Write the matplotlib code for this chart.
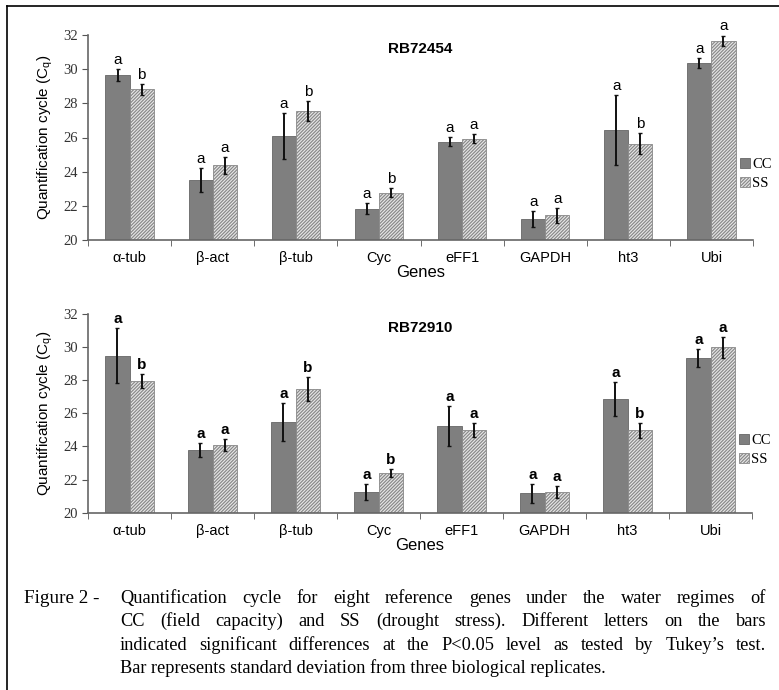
import matplotlib
matplotlib.use("Agg")
import matplotlib.pyplot as plt
import numpy as np
from matplotlib.lines import Line2D

plt.rcParams['hatch.color'] = '#5a5a5a'
plt.rcParams['hatch.linewidth'] = 0.85

genes = ['\u03b1-tub', '\u03b2-act', '\u03b2-tub', 'Cyc', 'eFF1', 'GAPDH', 'ht3', 'Ubi']

# RB72454
cc_1 = [29.66, 23.51, 26.09, 21.83, 25.76, 21.23, 26.42, 30.38]
cc_1_sd = [0.35, 0.70, 1.37, 0.33, 0.27, 0.46, 2.05, 0.29]
ss_1 = [28.82, 24.37, 27.53, 22.77, 25.93, 21.45, 25.64, 31.67]
ss_1_sd = [0.33, 0.48, 0.58, 0.25, 0.25, 0.43, 0.60, 0.30]
cc_1_let = ['a', 'a', 'a', 'a', 'a', 'a', 'a', 'a']
ss_1_let = ['b', 'a', 'b', 'b', 'a', 'a', 'b', 'a']

# RB72910
cc_2 = [29.48, 23.77, 25.46, 21.23, 25.22, 21.17, 26.85, 29.36]
cc_2_sd = [1.65, 0.43, 1.15, 0.49, 1.20, 0.59, 1.02, 0.55]
ss_2 = [27.97, 24.07, 27.47, 22.38, 24.97, 21.25, 24.99, 29.99]
ss_2_sd = [0.42, 0.36, 0.72, 0.24, 0.42, 0.38, 0.45, 0.63]
cc_2_let = ['a', 'a', 'a', 'a', 'a', 'a', 'a', 'a']
ss_2_let = ['b', 'a', 'b', 'b', 'a', 'a', 'b', 'a']

caption = [
    "Quantification cycle for eight reference genes under the water regimes of",
    "CC (field capacity) and SS (drought stress). Different letters on the bars",
    "indicated significant differences at the P<0.05 level as tested by Tukey\u2019s test.",
    "Bar represents standard deviation from three biological replicates.",
]

fig = plt.figure(figsize=(7.79, 6.90), dpi=100)
W, H = 779, 690

sans = 'Liberation Sans'
serif = 'Liberation Serif'


def panel(rect, title, cc, cc_sd, ss, ss_sd, cc_let, ss_let, bold_letters, leg_y):
    ax = fig.add_axes(rect)
    x = np.arange(len(genes)) + 0.5
    w = 0.29
    ax.bar(x - w / 2, [v - 20 for v in cc], w, bottom=20, color='#7f7f7f',
           edgecolor='#666666', linewidth=0.6, label='CC')
    ax.bar(x + w / 2, [v - 20 for v in ss], w, bottom=20, color='#e6e6e6',
           edgecolor='#888888', linewidth=0.6, hatch='//////////', label='SS')
    ax.errorbar(x - w / 2, cc, yerr=cc_sd, fmt='none', ecolor='#111111',
                elinewidth=1.4, capsize=1.5, capthick=1.0)
    ax.errorbar(x + w / 2, ss, yerr=ss_sd, fmt='none', ecolor='#111111',
                elinewidth=1.4, capsize=1.5, capthick=1.0)
    fw = 'bold' if bold_letters else 'normal'
    for i in range(len(genes)):
        ax.text(x[i] - w / 2, cc[i] + cc_sd[i] + 0.12, cc_let[i], ha='center',
                va='bottom', fontsize=11, family=sans, fontweight=fw)
        ax.text(x[i] + w / 2, ss[i] + ss_sd[i] + 0.12, ss_let[i], ha='center',
                va='bottom', fontsize=11, family=sans, fontweight=fw)
    ax.set_xlim(0, 8)
    ax.set_ylim(20, 32)
    ax.set_yticks(np.arange(20, 33, 2))
    ax.set_yticklabels([str(v) for v in range(20, 33, 2)], family=serif, fontsize=10.5,
                       color='#333333')
    ax.set_xticks(x)
    ax.set_xticklabels(genes, family=sans, fontsize=10.5)
    ax.set_xticks(np.arange(0, 9), minor=True)
    ax.tick_params(axis='x', which='major', length=0, pad=8)
    ax.tick_params(axis='x', which='minor', length=4, direction='out', color='#555555')
    ax.tick_params(axis='y', length=4, direction='out', color='#555555', pad=3)
    for s in ['top', 'right']:
        ax.spines[s].set_visible(False)
    for s in ['left', 'bottom']:
        ax.spines[s].set_color('#666666')
        ax.spines[s].set_linewidth(1.2)
    ax.set_ylabel('Quantification cycle (C$_\\mathregular{q}$)', family=sans,
                  fontsize=11, labelpad=6)
    ax.set_xlabel('Genes', family=sans, fontsize=12, labelpad=0)
    ax.text(0.5, 0.93, title, transform=ax.transAxes, ha='center', va='center',
            fontsize=11, fontweight='bold', family=sans)
    ax.legend(loc='center left', bbox_to_anchor=(0.98, leg_y), frameon=False,
              handlelength=0.7, handleheight=0.7, handletextpad=0.15,
              borderaxespad=0.0, borderpad=0.0,
              labelspacing=0.35, prop={'family': serif, 'size': 10.5})
    return ax


panel([88 / W, 1 - 240 / H, 665 / W, 205 / H], 'RB72454', cc_1, cc_1_sd, ss_1, ss_1_sd,
      cc_1_let, ss_1_let, False, (240 - 174) / 205)
panel([88 / W, 1 - 512.7 / H, 664 / W, 198.7 / H], 'RB72910', cc_2, cc_2_sd, ss_2, ss_2_sd,
      cc_2_let, ss_2_let, True, (512.7 - 450) / 198.7)

# figure frame
fig.add_artist(Line2D([7 / W, 7 / W], [0, 1 - 6 / H], color='black', lw=1.2))
fig.add_artist(Line2D([7 / W, 1], [1 - 6 / H, 1 - 6 / H], color='black', lw=1.2))

# caption, justified lines
renderer = fig.canvas.get_renderer()
cap_fs = 13.2
base0 = 603
fig.text(24 / W, 1 - base0 / H, 'Figure 2 -', family=serif, fontsize=cap_fs + 0.6,
         va='baseline', ha='left')
left_px, right_px = 120, 766
for k, line in enumerate(caption):
    y = 1 - (base0 + 23.3 * k) / H
    if k == len(caption) - 1:
        fig.text(left_px / W, y, line, family=serif, fontsize=cap_fs, va='baseline', ha='left')
        continue
    words = line.split(' ')
    widths = []
    for wd in words:
        t = fig.text(0, 0, wd, family=serif, fontsize=cap_fs)
        widths.append(t.get_window_extent(renderer).width)
        t.remove()
    gap = max((right_px - left_px - sum(widths)) / (len(words) - 1), 2.0)
    xp = left_px
    for wd, wdt in zip(words, widths):
        fig.text(xp / W, y, wd, family=serif, fontsize=cap_fs, va='baseline', ha='left')
        xp += wdt + gap

fig.savefig('out.png', dpi=100)
